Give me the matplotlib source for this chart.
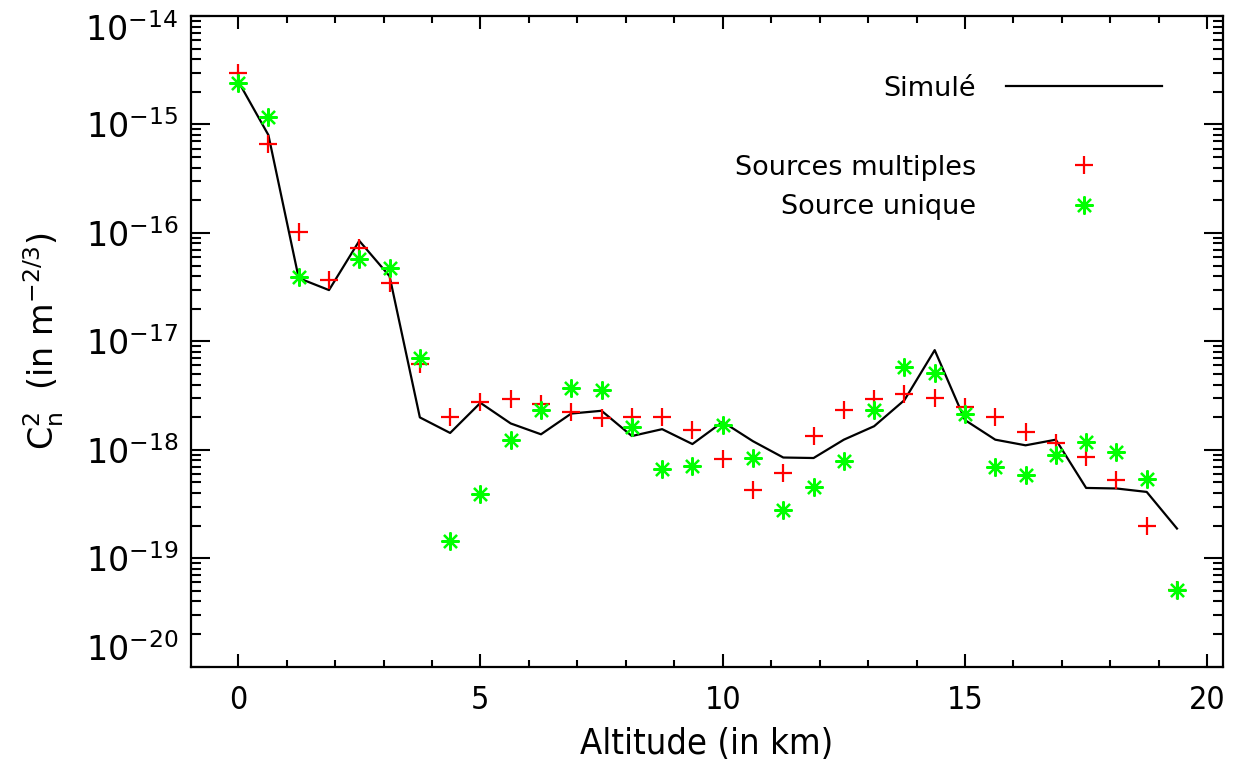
import numpy as np
import matplotlib.pyplot as plt
import matplotlib.transforms as mtransforms
from matplotlib.lines import Line2D
from matplotlib.ticker import FixedLocator, LogLocator, MultipleLocator, NullFormatter

# altitudes (km)
altitude = [0.0, 0.625, 1.25, 1.875, 2.5, 3.125, 3.75, 4.375, 5.0, 5.625,
            6.25, 6.875, 7.5, 8.125, 8.75, 9.375, 10.0, 10.625, 11.25, 11.875,
            12.5, 13.125, 13.75, 14.375, 15.0, 15.625, 16.25, 16.875, 17.5,
            18.125, 18.75, 19.375]

# simulated profile
cn2_sim = [2.51e-15, 7.98e-16, 3.83e-17, 2.97e-17, 8.45e-17, 3.99e-17,
           1.99e-18, 1.43e-18, 2.71e-18, 1.75e-18, 1.39e-18, 2.16e-18,
           2.29e-18, 1.34e-18, 1.55e-18, 1.13e-18, 1.81e-18, 1.20e-18,
           8.49e-19, 8.40e-19, 1.24e-18, 1.65e-18, 2.87e-18, 8.30e-18,
           1.88e-18, 1.24e-18, 1.10e-18, 1.24e-18, 4.45e-19, 4.40e-19,
           4.09e-19, 1.88e-19]

# multi-source reconstruction
cn2_multi = [2.96e-15, 6.59e-16, 1.02e-16, 3.67e-17, 7.19e-17, 3.42e-17,
             6.17e-18, 2.01e-18, 2.77e-18, 2.93e-18, 2.67e-18, 2.24e-18,
             1.95e-18, 2.01e-18, 1.99e-18, 1.52e-18, 8.31e-19, 4.30e-19,
             6.12e-19, 1.34e-18, 2.32e-18, 2.97e-18, 3.26e-18, 3.03e-18,
             2.49e-18, 1.99e-18, 1.46e-18, 1.16e-18, 8.61e-19, 5.25e-19,
             1.99e-19, 5.14e-20]

# single-source reconstruction (no value at 1.875 km)
cn2_single = [2.41e-15, 1.18e-15, 3.94e-17, np.nan, 5.70e-17, 4.71e-17,
              6.95e-18, 1.44e-19, 3.95e-19, 1.23e-18, 2.32e-18, 3.74e-18,
              3.55e-18, 1.63e-18, 6.72e-19, 7.10e-19, 1.69e-18, 8.49e-19,
              2.77e-19, 4.55e-19, 7.85e-19, 2.32e-18, 5.82e-18, 5.06e-18,
              2.16e-18, 6.95e-19, 5.83e-19, 9.05e-19, 1.17e-18, 9.57e-19,
              5.36e-19, 5.14e-20]

# y decades shown on the axis
decades = [1e-20, 1e-19, 1e-18, 1e-17, 1e-16, 1e-15, 1e-14]

fig = plt.figure(figsize=(12.34, 7.73), dpi=100)
ax = fig.add_axes([0.1545, 0.1375, 0.8364, 0.8418])

star = (8, 2, 0)
ax.plot(altitude, cn2_sim, color='black', lw=1.6, label='Simulé')
ax.plot(altitude, cn2_multi, ls='none', marker='+', ms=13, mew=1.6,
        color='#ff0000', label='Sources multiples')
ax.plot(altitude, cn2_single, ls='none', marker=star, ms=13, mew=1.6,
        color='#00ff00', label='Source unique')

ax.set_yscale('log')
ax.set_ylim(decades[0], decades[-1])
ax.set_xlim(-0.98, 20.32)

ax.xaxis.set_major_locator(MultipleLocator(5))
ax.xaxis.set_minor_locator(MultipleLocator(1))
ax.yaxis.set_major_locator(FixedLocator(decades))
ax.yaxis.set_minor_locator(LogLocator(base=10, subs=np.arange(2, 10), numticks=10))
ax.yaxis.set_minor_formatter(NullFormatter())

for s in ax.spines.values():
    s.set_linewidth(1.6)
ax.tick_params(which='both', direction='in', top=True, right=True, width=1.5)
ax.tick_params(axis='y', which='major', length=14, pad=9, labelsize=24)
ax.tick_params(axis='y', which='minor', length=7)
ax.tick_params(axis='x', which='major', length=9.5, pad=13, labelsize=23)
ax.tick_params(axis='x', which='minor', length=5)

fig.canvas.draw()
for lab in ax.get_xticklabels():
    lab.set_fontstretch('condensed')

# keep the end labels inside the frame, as in the original
for t in ax.yaxis.get_major_ticks():
    e = np.log10(t.get_loc())
    if abs(e + 14) < 0.01:
        dy = -8
    elif abs(e + 20) < 0.01:
        dy = 14
    else:
        dy = 0
    off = mtransforms.ScaledTranslation(0, dy / 72, fig.dpi_scale_trans)
    t.label1.set_transform(t.label1.get_transform() + off)

ax.set_xlabel('Altitude (in km)', fontsize=26, fontstretch='condensed',
              labelpad=8)
ax.set_ylabel(r'$\mathregular{C_n^2}$  (in m$^{\mathregular{-2/3}}$)',
              fontsize=24, labelpad=14)

# legend: text on the left, symbol on the right, one blank row
h = ax.get_lines()
blank = Line2D([], [], ls='none')
ax.legend([h[0], blank, h[1], h[2]],
          ['Simulé', '', 'Sources multiples', 'Source unique'],
          markerfirst=False, frameon=False, loc='upper right',
          bbox_to_anchor=(0.941, 0.908), borderaxespad=0, borderpad=0,
          handlelength=5.75, handletextpad=1.1, labelspacing=0.5,
          fontsize=19.5)

fig.savefig('out.png', dpi=100)
